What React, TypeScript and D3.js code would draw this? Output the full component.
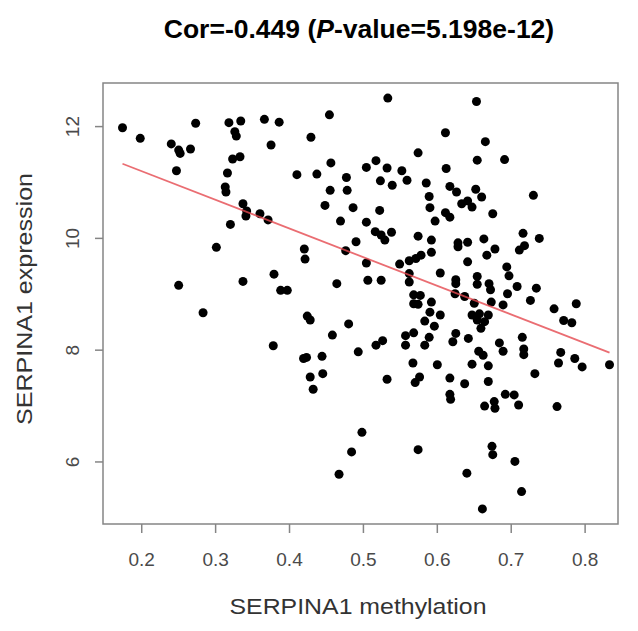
import React from "react";
import * as d3 from "d3";

const methylation: number[] = [
  0.174, 0.198, 0.240, 0.250, 0.252, 0.266, 0.273, 0.247, 0.318, 0.334,
  0.326, 0.328, 0.366, 0.386, 0.375, 0.323, 0.333, 0.316, 0.313, 0.314,
  0.337, 0.342, 0.341, 0.360, 0.371, 0.320, 0.301, 0.250, 0.337, 0.379,
  0.388, 0.397, 0.283, 0.429, 0.454, 0.456, 0.410, 0.437, 0.477, 0.455,
  0.478, 0.448, 0.486, 0.469, 0.504, 0.504, 0.490, 0.476, 0.420, 0.421,
  0.504, 0.464, 0.506, 0.378, 0.424, 0.428, 0.458, 0.480, 0.419, 0.423,
  0.444, 0.493, 0.428, 0.445, 0.432, 0.498, 0.484, 0.467, 0.533, 0.653,
  0.611, 0.665, 0.574, 0.654, 0.691, 0.517, 0.532, 0.552, 0.559, 0.523,
  0.539, 0.612, 0.585, 0.589, 0.590, 0.617, 0.626, 0.652, 0.660, 0.633,
  0.641, 0.647, 0.675, 0.730, 0.522, 0.597, 0.611, 0.617, 0.516, 0.524,
  0.529, 0.538, 0.574, 0.592, 0.592, 0.628, 0.628, 0.641, 0.663, 0.667,
  0.678, 0.716, 0.711, 0.718, 0.738, 0.641, 0.549, 0.562, 0.571, 0.578,
  0.524, 0.562, 0.562, 0.604, 0.625, 0.625, 0.654, 0.654, 0.670, 0.672,
  0.694, 0.697, 0.708, 0.734, 0.695, 0.726, 0.568, 0.577, 0.568, 0.574,
  0.592, 0.624, 0.637, 0.650, 0.673, 0.689, 0.758, 0.788, 0.590, 0.604,
  0.583, 0.596, 0.647, 0.657, 0.669, 0.654, 0.664, 0.659, 0.771, 0.782,
  0.517, 0.526, 0.557, 0.568, 0.557, 0.583, 0.589, 0.621, 0.625, 0.642,
  0.684, 0.689, 0.715, 0.717, 0.717, 0.656, 0.662, 0.567, 0.600, 0.647,
  0.669, 0.732, 0.767, 0.764, 0.786, 0.796, 0.833, 0.532, 0.570, 0.576,
  0.617, 0.637, 0.669, 0.617, 0.618, 0.692, 0.704, 0.664, 0.677, 0.678,
  0.710, 0.762, 0.574, 0.674, 0.675, 0.705, 0.640, 0.714, 0.661,
];

const expression: number[] = [
  11.98, 11.79, 11.69, 11.58, 11.52, 11.60, 12.06, 11.21, 12.07, 12.10,
  11.91, 11.83, 12.13, 12.08, 11.67, 11.42, 11.46, 11.17, 10.92, 10.83,
  10.62, 10.49, 10.40, 10.44, 10.33, 10.25, 9.84, 9.16, 9.23, 9.36,
  9.07, 9.07, 8.67, 11.81, 12.21, 11.35, 11.14, 11.15, 11.09, 10.86,
  10.86, 10.59, 10.55, 10.31, 11.27, 10.29, 9.94, 9.78, 9.81, 9.63,
  9.56, 9.19, 9.25, 8.08, 8.61, 8.54, 8.27, 8.47, 7.85, 7.87,
  7.89, 7.97, 7.52, 7.58, 7.30, 6.53, 6.18, 5.78, 12.51, 12.45,
  11.89, 11.73, 11.53, 11.40, 11.41, 11.39, 11.26, 11.21, 11.04, 11.03,
  10.95, 11.25, 10.99, 10.75, 10.55, 10.93, 10.83, 10.88, 10.74, 10.62,
  10.67, 10.56, 10.44, 10.77, 10.50, 10.31, 10.46, 10.38, 10.12, 10.06,
  9.97, 10.11, 10.04, 9.97, 9.75, 9.92, 9.85, 9.93, 9.99, 9.70,
  9.81, 10.09, 9.79, 9.87, 10.00, 9.58, 9.54, 9.60, 9.64, 9.70,
  9.25, 9.37, 9.22, 9.38, 9.26, 9.19, 9.32, 9.18, 9.19, 9.08,
  9.49, 9.33, 9.14, 9.11, 9.01, 8.89, 8.99, 8.98, 8.83, 8.82,
  8.86, 9.01, 8.96, 8.84, 8.86, 8.81, 8.74, 8.83, 8.68, 8.63,
  8.52, 8.43, 8.63, 8.65, 8.63, 8.54, 8.51, 8.39, 8.53, 8.49,
  8.09, 8.17, 8.26, 8.31, 8.09, 8.09, 8.23, 8.15, 8.30, 8.21,
  8.13, 7.98, 8.23, 8.02, 7.92, 7.98, 7.91, 7.77, 7.74, 7.75,
  7.72, 7.58, 7.96, 7.77, 7.85, 7.70, 7.74, 7.48, 7.42, 7.52,
  7.50, 7.40, 7.44, 7.21, 7.12, 7.21, 7.20, 7.00, 7.08, 6.96,
  7.02, 6.99, 6.22, 6.28, 6.13, 6.01, 5.80, 5.47, 5.16,
];

const xTicks: number[] = [0.2, 0.3, 0.4, 0.5, 0.6, 0.7, 0.8];
const yTicks: number[] = [6, 8, 10, 12];
const xLim: [number, number] = [0.1476, 0.8445];
const yLim: [number, number] = [4.89, 12.78];
const fitIntercept = 12.227;
const fitSlope = -5.128;

const titleMain = "Cor=-0.449 (";
const titleItalic = "P";
const titleRest = "-value=5.198e-12)";
const xLabel = "SERPINA1 methylation";
const yLabel = "SERPINA1 expression";

export default function App() {
  const W = 638;
  const H = 631;
  const left = 103, right = 618, top = 83, bottom = 524;
  const x = d3.scaleLinear().domain(xLim).range([left, right]);
  const y = d3.scaleLinear().domain(yLim).range([bottom, top]);
  const xMin = d3.min(methylation) as number;
  const xMax = d3.max(methylation) as number;
  const line = d3
    .line<number>()
    .x((d) => x(d))
    .y((d) => y(fitIntercept + fitSlope * d));
  const font = "'Liberation Sans', Arial, Helvetica, sans-serif";
  const axisColor = "#858585";
  const tickText = "#4a4a4a";

  return (
    <svg
      width={W}
      height={H}
      style={{ position: "absolute", left: 0, top: 0, background: "#fff" }}
      fontFamily={font}
    >
      <rect x={0} y={0} width={W} height={H} fill="#fff" />
      <text
        x={359}
        y={38}
        textAnchor="middle"
        fontSize={26.5}
        fontWeight="bold"
        fill="#000"
      >
        {titleMain}
        <tspan fontStyle="italic">{titleItalic}</tspan>
        {titleRest}
      </text>

      {methylation.map((m, i) => (
        <circle key={i} cx={x(m)} cy={y(expression[i])} r={4.5} fill="#000" />
      ))}

      <path
        d={line([xMin, xMax]) || ""}
        stroke="#e5484f"
        strokeOpacity={0.8}
        strokeWidth={1.8}
        fill="none"
      />

      <rect
        x={left}
        y={top}
        width={right - left}
        height={bottom - top}
        fill="none"
        stroke={axisColor}
        strokeWidth={1.5}
      />

      {xTicks.map((t) => (
        <g key={"x" + t}>
          <line
            x1={x(t)}
            x2={x(t)}
            y1={bottom}
            y2={bottom + 9}
            stroke={axisColor}
            strokeWidth={1.5}
          />
          <text
            x={x(t)}
            y={566}
            textAnchor="middle"
            fontSize={19}
            fill={tickText}
          >
            {d3.format(".1f")(t)}
          </text>
        </g>
      ))}

      {yTicks.map((t) => (
        <g key={"y" + t}>
          <line
            x1={left - 8}
            x2={left}
            y1={y(t)}
            y2={y(t)}
            stroke={axisColor}
            strokeWidth={1.5}
          />
          <text
            transform={`translate(79, ${y(t)}) rotate(-90)`}
            textAnchor="middle"
            fontSize={19}
            fill={tickText}
          >
            {t}
          </text>
        </g>
      ))}

      <text
        x={358}
        y={614}
        textAnchor="middle"
        fontSize={22}
        fill="#333"
        textLength={257}
        lengthAdjust="spacingAndGlyphs"
      >
        {xLabel}
      </text>
      <text
        transform="translate(32, 299) rotate(-90)"
        textAnchor="middle"
        fontSize={22}
        fill="#333"
        textLength={252}
        lengthAdjust="spacingAndGlyphs"
      >
        {yLabel}
      </text>
    </svg>
  );
}
